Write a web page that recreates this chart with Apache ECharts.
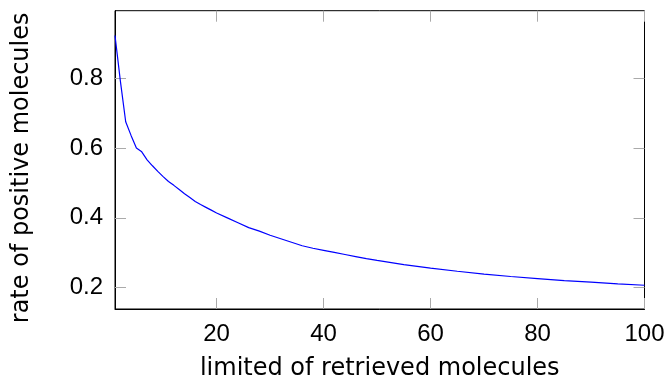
<!DOCTYPE html>
<html>
<head>
<meta charset="utf-8">
<script src="https://cdn.jsdelivr.net/npm/echarts@6/dist/echarts.min.js"></script>
<style>html,body{margin:0;padding:0;background:#fff}#c{width:668px;height:386px}</style>
</head>
<body>
<div id="c"></div>
<script>
const xValues = [1,2,3,4,5,6,7,8,9,10,11,12,13,14,15,16,17,18,19,20,22,24,26,28,30,32,34,36,38,40,42,44,46,48,50,55,60,65,70,75,80,85,90,95,100];
const rateValues = [0.922,0.792,0.675,0.636,0.600,0.589,0.566,0.549,0.533,0.518,0.504,0.493,0.481,0.469,0.458,0.447,0.438,0.430,0.422,0.414,0.400,0.386,0.372,0.362,0.350,0.340,0.330,0.320,0.313,0.307,0.301,0.295,0.289,0.283,0.278,0.266,0.256,0.247,0.239,0.232,0.226,0.220,0.216,0.211,0.207];
const xTicks = [20,40,60,80,100];
const yTicks = [0.2,0.4,0.6,0.8];
const xTitle = 'limited of retrieved molecules';
const yTitle = 'rate of positive molecules';

const font = 'Liberation Sans';
const titleFont = 'DejaVu Sans';
const tickStyle = {show:true, inside:true, length:11, lineStyle:{color:'#aaaaaa', width:1}};
const chart = echarts.init(document.getElementById('c'), null, {renderer:'canvas'});
const xRange = {min:1, max:100};
const yRange = {min:0.139, max:0.993};
chart.setOption({
  animation:false,
  grid:{left:115, right:23.5, top:10.7, bottom:73.3, show:true, borderColor:'#000', borderWidth:1, containLabel:false},
  xAxis:[
    Object.assign({type:'value', position:'bottom', splitLine:{show:false},
      axisLine:{show:true, lineStyle:{color:'#000', width:1}},
      axisTick:Object.assign({customValues:xTicks}, tickStyle),
      axisLabel:{customValues:xTicks, color:'#000', fontSize:24, fontFamily:font, margin:13},
      name:xTitle, nameLocation:'middle', nameGap:48,
      nameTextStyle:{color:'#000', fontSize:24, fontFamily:titleFont}}, xRange),
    Object.assign({type:'value', position:'top', splitLine:{show:false},
      axisLine:{show:false},
      axisTick:Object.assign({customValues:xTicks}, tickStyle),
      axisLabel:{show:false}}, xRange)
  ],
  yAxis:[
    Object.assign({type:'value', position:'left', splitLine:{show:false},
      axisLine:{show:true, lineStyle:{color:'#000', width:1}},
      axisTick:Object.assign({customValues:yTicks}, tickStyle),
      axisLabel:{customValues:yTicks, color:'#000', fontSize:24, fontFamily:font, margin:12,
        formatter:v=>v.toFixed(1)},
      name:yTitle, nameLocation:'middle', nameGap:81, nameRotate:90,
      nameTextStyle:{color:'#000', fontSize:24, fontFamily:titleFont, padding:[0,16,0,0]}}, yRange),
    Object.assign({type:'value', position:'right', splitLine:{show:false},
      axisLine:{show:false},
      axisTick:Object.assign({customValues:yTicks}, tickStyle),
      axisLabel:{show:false}}, yRange)
  ],
  series:[{
    type:'line', xAxisIndex:0, yAxisIndex:0,
    data:xValues.map((x,i)=>[x, rateValues[i]]),
    showSymbol:false, symbol:'none',
    lineStyle:{color:'#0000ff', width:1.2},
    clip:true
  }]
});
</script>
</body>
</html>
